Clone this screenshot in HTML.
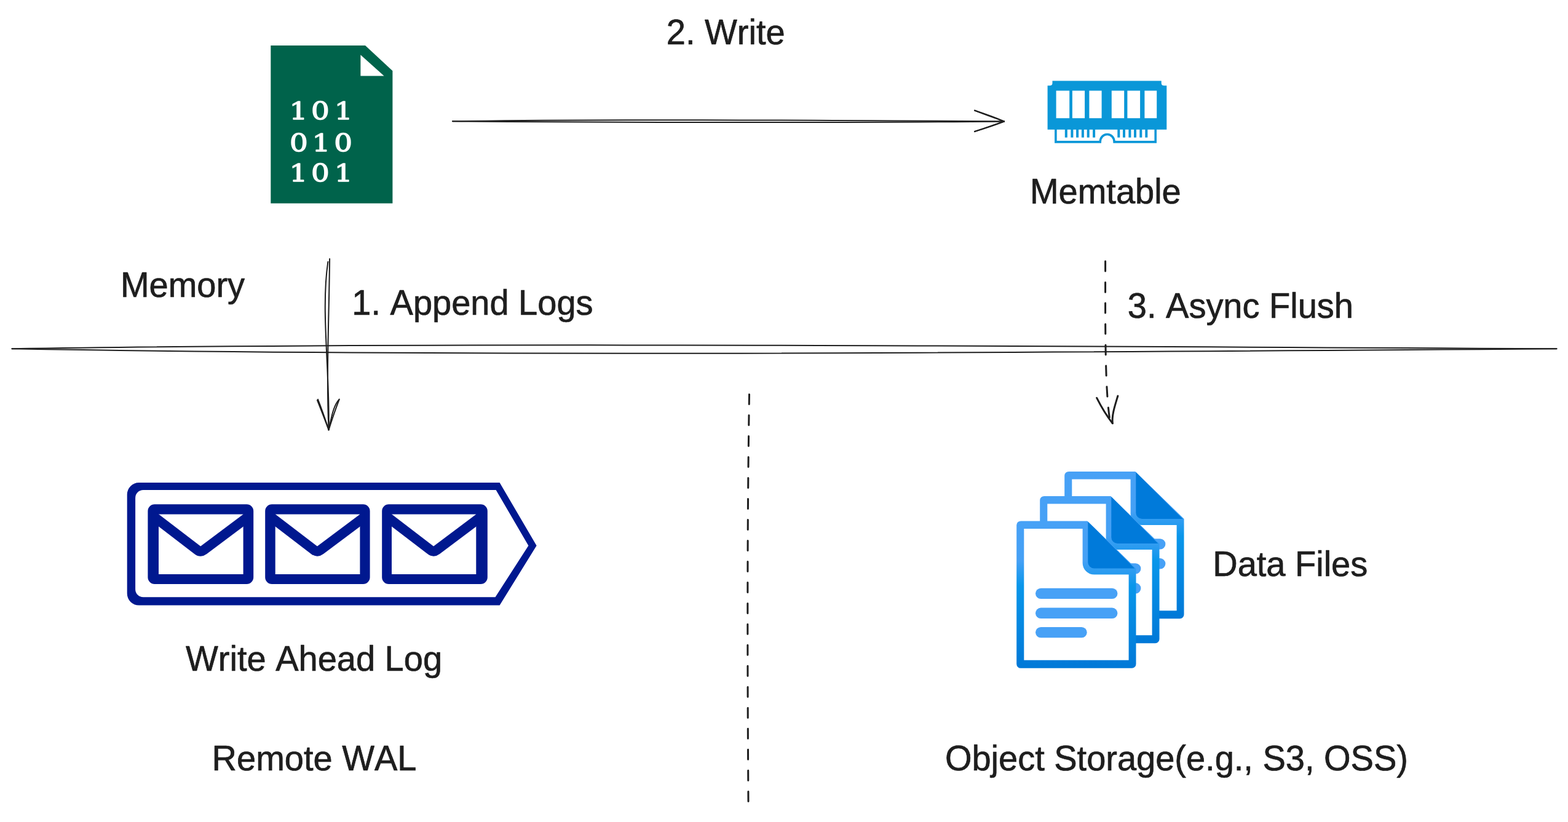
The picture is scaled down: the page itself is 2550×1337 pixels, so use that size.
<!DOCTYPE html>
<html lang="en">
<head>
<meta charset="utf-8">
<title>Write path: WAL, Memtable, Object Storage</title>
<style>
html,body{margin:0;padding:0;background:#fff;}
body{width:2550px;height:1337px;overflow:hidden;position:relative;}
svg{position:absolute;left:0;top:0;display:block;}
.t{font-kerning:none;font-family:"Liberation Sans",sans-serif;font-size:56px;fill:#1e1e1e;stroke:#1e1e1e;stroke-width:0.7px;stroke-linejoin:round;}
.bin{font-family:"DejaVu Serif","Liberation Serif",serif;font-size:40px;fill:#fff;stroke:#fff;stroke-width:1.3px;stroke-linejoin:round;text-anchor:middle;}
.ink{fill:none;stroke:#1e1e1e;stroke-width:2;stroke-linecap:round;stroke-linejoin:round;}
</style>
</head>
<body>
<svg width="2550" height="1337" viewBox="0 0 2550 1337">
<defs>
<filter id="soft" x="-5%" y="-5%" width="110%" height="110%"><feGaussianBlur stdDeviation="0.5"/></filter>
<linearGradient id="docg" x1="0" y1="0" x2="0" y2="1">
<stop offset="0" stop-color="#47a1f6"/>
<stop offset="0.27" stop-color="#45a0f5"/>
<stop offset="0.44" stop-color="#0996ea"/>
<stop offset="1" stop-color="#0078d7"/>
</linearGradient>
<g id="doc">
<path d="M6.7,-0.4 H114.8 L194,76.8 V232.3 A6.7,6.7 0 0 1 187.3,239 H6.7 A6.7,6.7 0 0 1 -0.3,232.3 V6.3 A7,6.7 0 0 1 6.7,-0.4 Z" fill="url(#docg)"/>
<path d="M11.8,12.1 H107.1 V68 A18.8,18.8 0 0 0 125.9,86.8 H182.1 V226 H11.8 Z" fill="#fff"/>
<path d="M115.8,0.6 L191.9,76.7 H125.8 A10,10 0 0 1 115.8,66.7 Z" fill="#007ada"/>
<rect x="30.5" y="108.9" width="133.4" height="17.4" rx="8.7" fill="#47a1f6"/>
<rect x="30.5" y="140.8" width="133.4" height="17.4" rx="8.7" fill="#47a1f6"/>
<rect x="30.5" y="172.1" width="83.7" height="17.4" rx="8.7" fill="#47a1f6"/>
</g>
</defs>
<g id="binfile">
<path d="M440.3,73.9 H594 L638.4,115.2 V330.7 H440.3 Z" fill="#00634b"/>
<path d="M586.4,89.3 V123.4 H624.6 Z" fill="#fff"/>
<g filter="url(#soft)"><text class="bin" transform="translate(0 193.90) scale(1.17 1)" x="414.87 445.30 477.44" y="0">101</text>
<text class="bin" transform="translate(0 246.10) scale(1.17 1)" x="415.30 446.41 477.09" y="0">010</text>
<text class="bin" transform="translate(0 294.60) scale(1.17 1)" x="414.87 445.30 477.44" y="0">101</text></g>
</g>
<g id="mem" fill="#0a97d8">
<path fill-rule="evenodd" d="M1711.5,131.5 H1888.7 V135 Q1888.7,139.3 1893.2,139.3 H1897.3 V210.7 H1703.6 V139.3 H1707 Q1711.5,139.3 1711.5,135 Z M1717.6,147.4 H1739.2 V192.3 H1717.6 Z M1743.9,147.4 H1764.1 V192.3 H1743.9 Z M1771.4,147.4 H1791.6 V192.3 H1771.4 Z M1807.8,147.4 H1828.2 V192.3 H1807.8 Z M1833.4,147.4 H1854.1 V192.3 H1833.4 Z M1861.4,147.4 H1881.2 V192.3 H1861.4 Z"/>
<path d="M1716.9,209 V230.85 H1789.2 A11.45,12.4 0 0 1 1812.1,230.85 H1879.2 V209" fill="none" stroke="#0a97d8" stroke-width="3.6"/>
<rect x="1731.8" y="209" width="4" height="14.65"/>
<rect x="1741.4" y="209" width="4" height="14.65"/>
<rect x="1750.1" y="209" width="4" height="14.65"/>
<rect x="1758.9" y="209" width="4" height="14.65"/>
<rect x="1767.7" y="209" width="4" height="14.65"/>
<rect x="1777.1" y="209" width="4" height="14.65"/>
<rect x="1817.3" y="209" width="4" height="14.65"/>
<rect x="1826.0" y="209" width="4" height="14.65"/>
<rect x="1835.4" y="209" width="4" height="14.65"/>
<rect x="1844.0" y="209" width="4" height="14.65"/>
<rect x="1853.3" y="209" width="4" height="14.65"/>
<rect x="1862.3" y="209" width="4" height="14.65"/>
</g>
<g id="wal" fill="#00188f">
<path fill-rule="evenodd" d="M226,785.1 H812.6 L872.6,887.5 L812.6,984.6 H226 A19.3,19.3 0 0 1 206.7,965.3 V804.4 A19.3,19.3 0 0 1 226,785.1 Z M233,797 A12.9,12.9 0 0 0 220.1,809.9 V958.4 A12.9,12.9 0 0 0 233,971.3 H805.5 L859.4,887.5 L806.6,797 Z"/>
<path fill-rule="evenodd" d="M251.40,820.35 H401.20 A11,11 0 0 1 412.20,831.35 V938.90 A11,11 0 0 1 401.20,949.90 H251.40 A11,11 0 0 1 240.40,938.90 V831.35 A11,11 0 0 1 251.40,820.35 Z M258.00,836.40 V934.00 H395.60 V836.40 Z"/>
<path d="M251.00,831.04 L326.20,888.57 L402.60,831.14 L402.60,851.14 L336.20,901.06 Q326.20,908.57 316.20,900.92 L251.00,851.04 Z"/>
<path fill-rule="evenodd" d="M442.20,820.35 H590.60 A11,11 0 0 1 601.60,831.35 V938.90 A11,11 0 0 1 590.60,949.90 H442.20 A11,11 0 0 1 431.20,938.90 V831.35 A11,11 0 0 1 442.20,820.35 Z M447.70,836.40 V934.00 H585.40 V836.40 Z"/>
<path d="M440.70,831.04 L515.95,888.61 L592.40,831.14 L592.40,851.14 L525.95,901.09 Q515.95,908.61 505.95,900.96 L440.70,851.04 Z"/>
<path fill-rule="evenodd" d="M632.20,820.35 H781.80 A11,11 0 0 1 792.80,831.35 V938.90 A11,11 0 0 1 781.80,949.90 H632.20 A11,11 0 0 1 621.20,938.90 V831.35 A11,11 0 0 1 632.20,820.35 Z M637.00,836.40 V934.00 H774.30 V836.40 Z"/>
<path d="M630.00,831.04 L705.05,888.46 L781.30,831.14 L781.30,851.14 L715.05,900.94 Q705.05,908.46 695.05,900.81 L630.00,851.04 Z"/>
</g>
<g id="docs">
<use href="#doc" x="1731.5" y="767.3"/>
<use href="#doc" x="1691.5" y="807.3"/>
<use href="#doc" x="1653.5" y="847.8"/>
</g>
<g id="lines" class="ink">
<!-- divider -->
<path d="M19.5,567.3 C600,557.5 1500,561.5 2531.5,567.3"/>
<path d="M19.5,567.3 C700,579.3 1500,575 2531.5,567.3"/>
<!-- arrow 2: write -->
<path d="M736,197.3 C1000,193.5 1300,195.5 1633,197.5"/>
<path d="M736,197.3 C1000,199 1300,200.5 1633,197.5"/>
<path d="M1585,179.5 C1601,186 1617,191.5 1633,197.5"/>
<path d="M1585,179.8 C1601,185 1618,191 1633,197.5"/>
<path d="M1585,214.1 C1601,208.5 1617,203 1633,197.5"/>
<path d="M1585,213.8 C1601,209 1618,203.5 1633,197.5"/>
<!-- arrow 1: append -->
<path d="M536.1,421 C535,520 530.5,610 534.6,699.2"/>
<path d="M533.4,425.7 C521.5,505 536.5,600 534.6,699.2"/>
<path d="M516,651 C522.5,667 528.5,683 534.6,699.2"/>
<path d="M517,649.6 C523.5,666 529.3,683 534.6,699.2"/>
<path d="M551.8,649.4 C541.5,660 538.5,682 534.6,699.2"/>
<path d="M551.6,649.8 C547,662 539.5,683 534.6,699.2"/>
<!-- arrow 3: async flush (dashed) -->
<path d="M1797.6,425 C1797.6,530 1796.5,640 1806,689" stroke-dasharray="16 18" stroke-width="3"/>
<path d="M1783.6,647.2 C1790.5,661 1799,675.5 1809.3,688.6" stroke-width="3"/>
<path d="M1817.9,644 C1812.5,662 1808,675 1809.3,688.6" stroke-width="3"/>
<!-- vertical dashed divider -->
<path d="M1218.5,641.5 C1215,860 1215.5,1080 1217,1303.5" stroke-dasharray="16 18" stroke-width="3"/>
</g>
<g id="labels">
<text class="t" transform="translate(1083.75 72.00) scale(1 1.01)">2. Write</text>
<text class="t" transform="translate(1674.95 331.00) scale(1 1.01)">Memtable</text>
<text class="t" transform="translate(195.90 483.00) scale(1 1.01)">Memory</text>
<text class="t" transform="translate(572.30 512.00) scale(1 1.01)">1. Append Logs</text>
<text class="t" transform="translate(1833.80 517.00) scale(1 1.01)">3. Async Flush</text>
<text class="t" transform="translate(1972.20 937.00) scale(1 1.01)">Data Files</text>
<text class="t" transform="translate(302.00 1091.00) scale(1 1.01)">Write Ahead Log</text>
<text class="t" transform="translate(344.60 1253.00) scale(1 1.01)">Remote WAL</text>
<text class="t" transform="translate(1536.90 1253.00) scale(1 1.01)">Object Storage(e.g., S3, OSS)</text>
</g>
</svg>
</body>
</html>
